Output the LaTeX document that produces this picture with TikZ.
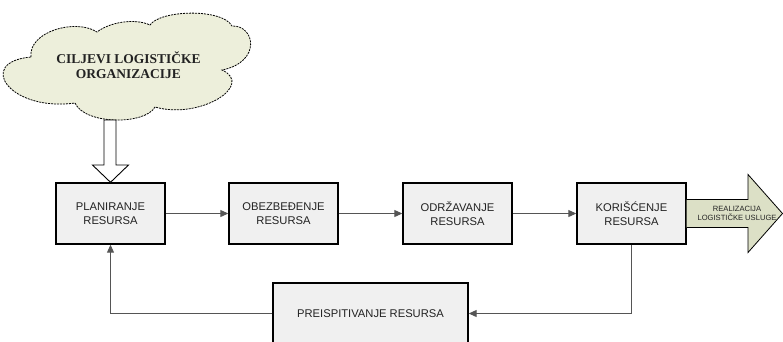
\documentclass[tikz,border=0pt]{standalone}
\usepackage{fontspec}
\setmainfont{Liberation Sans}
\newfontfamily\cloudfont{Liberation Serif}
\usetikzlibrary{arrows.meta}
\definecolor{boxgray}{HTML}{F0F0F0}
\definecolor{cloudfill}{HTML}{EDEFDB}
\definecolor{arrowfill}{HTML}{DCE0C6}
\definecolor{linegray}{HTML}{555555}
\definecolor{textgray}{HTML}{222222}
\tikzset{
	resbox/.style={draw=black, line width=1.4pt, fill=boxgray, minimum width=109pt, minimum height=61pt, align=center, text=textgray, font=\fontsize{11.2}{14}\selectfont, inner sep=0pt},
	link/.style={draw=linegray, line width=1pt, -{Triangle[length=8pt,width=7pt]}}
}

\begin{document}
\begin{tikzpicture}[x=1pt,y=-1pt]
		%%%%% START %%%%%
		\useasboundingbox (0,0) rectangle (783,341);
		\clip (0,0) rectangle (783,341);
		
		% cloud
		\draw[draw=black, dash pattern=on 2pt off 1pt, line width=0.8pt, fill=cloudfill]
			(31,57) .. controls (28,32) and (75,18) .. (97,32)
			.. controls (110,22) and (135,18) .. (150,25)
			.. controls (160,10) and (222,8) .. (232,26)
			.. controls (255,25) and (262,62) .. (222,70)
			.. controls (255,85) and (200,120) .. (155,107)
			.. controls (145,125) and (85,125) .. (75,103)
			.. controls (10,112) and (-25,62) .. cycle;
		\node[align=center, font=\cloudfont\bfseries\fontsize{13.5}{15}\selectfont, text=textgray] (goal) at (128.5,65.5) {CILJEVI LOGISTIČKE\\ORGANIZACIJE};
		
		\node[resbox] (plan) at (110.5,213.5) {PLANIRANJE\\RESURSA};
		\node[resbox] (obez) at (283.5,213.5) {OBEZBEĐENJE\\RESURSA};
		\node[resbox] (odrz) at (457.5,213.5) {ODRŽAVANJE\\RESURSA};
		\node[resbox] (kori) at (631.5,213.5) {KORIŠĆENJE\\RESURSA};
		\node[resbox, minimum width=195pt] (preis) at (370.5,313.5) {PREISPITIVANJE RESURSA};
		
		% hollow arrow from the cloud
		\draw[line width=0.9pt, fill=white] (104,120) -- (116,120) -- (116,165) -- (128.5,165) -- (plan.north) -- (92.5,165) -- (104,165) -- cycle;
		
		\draw[link] (plan) -- (obez);
		\draw[link] (obez) -- (odrz);
		\draw[link] (odrz) -- (kori);
		\draw[link] (kori.south) |- (preis.east);
		\draw[link] (preis.west) -| (plan.south);
		
		% output arrow
		\draw[line width=0.8pt, fill=arrowfill] (kori.east |- 0,199.5) -- (748,199.5) -- (748,174.5) -- (782.5,213.5) -- (748,252.5) -- (748,227.5) -- (kori.east |- 0,227.5);
		\node[align=center, text=textgray, font=\fontsize{7.6}{9.5}\selectfont] (out) at (737,213.5) {REALIZACIJA\\LOGISTIČKE USLUGE};
		%%%%% END %%%%%
	\end{tikzpicture}
\end{document}
